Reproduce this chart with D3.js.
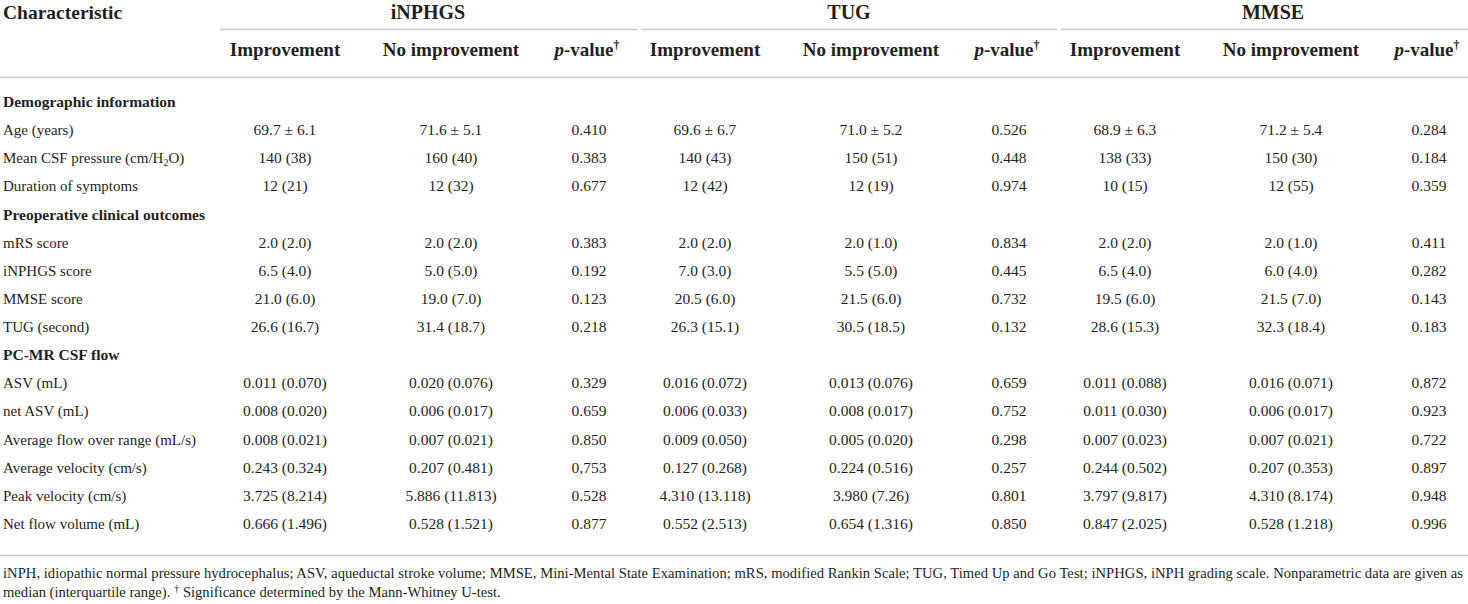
<!DOCTYPE html>
<html><head><meta charset="utf-8">
<script src="https://cdn.jsdelivr.net/npm/d3@7"></script>
<style>
html,body{margin:0;padding:0;background:#fff;}
svg{display:block;}
text{font-family:"Liberation Serif","Times New Roman",serif;fill:#231f20;}
</style></head><body>
<svg id="t" width="1468" height="604"></svg>
<script>
// ---- data ----
const groups = ["iNPHGS", "TUG", "MMSE"];
const subHeaders = ["Improvement", "No improvement", "p-value"];
const sections = [
  {row: 0, label: "Demographic information"},
  {row: 4, label: "Preoperative clinical outcomes"},
  {row: 9, label: "PC-MR CSF flow"}
];
const rowLabels = [
  "Age (years)", "Mean CSF pressure (cm/H2O)", "Duration of symptoms",
  "mRS score", "iNPHGS score", "MMSE score", "TUG (second)",
  "ASV (mL)", "net ASV (mL)", "Average flow over range (mL/s)",
  "Average velocity (cm/s)", "Peak velocity (cm/s)", "Net flow volume (mL)"
];
const rowIndex = [1, 2, 3, 5, 6, 7, 8, 10, 11, 12, 13, 14, 15];
const inphgsImp = ["69.7 ± 6.1","140 (38)","12 (21)","2.0 (2.0)","6.5 (4.0)","21.0 (6.0)","26.6 (16.7)","0.011 (0.070)","0.008 (0.020)","0.008 (0.021)","0.243 (0.324)","3.725 (8.214)","0.666 (1.496)"];
const inphgsNo  = ["71.6 ± 5.1","160 (40)","12 (32)","2.0 (2.0)","5.0 (5.0)","19.0 (7.0)","31.4 (18.7)","0.020 (0.076)","0.006 (0.017)","0.007 (0.021)","0.207 (0.481)","5.886 (11.813)","0.528 (1.521)"];
const inphgsP   = ["0.410","0.383","0.677","0.383","0.192","0.123","0.218","0.329","0.659","0.850","0,753","0.528","0.877"];
const tugImp    = ["69.6 ± 6.7","140 (43)","12 (42)","2.0 (2.0)","7.0 (3.0)","20.5 (6.0)","26.3 (15.1)","0.016 (0.072)","0.006 (0.033)","0.009 (0.050)","0.127 (0.268)","4.310 (13.118)","0.552 (2.513)"];
const tugNo     = ["71.0 ± 5.2","150 (51)","12 (19)","2.0 (1.0)","5.5 (5.0)","21.5 (6.0)","30.5 (18.5)","0.013 (0.076)","0.008 (0.017)","0.005 (0.020)","0.224 (0.516)","3.980 (7.26)","0.654 (1.316)"];
const tugP      = ["0.526","0.448","0.974","0.834","0.445","0.732","0.132","0.659","0.752","0.298","0.257","0.801","0.850"];
const mmseImp   = ["68.9 ± 6.3","138 (33)","10 (15)","2.0 (2.0)","6.5 (4.0)","19.5 (6.0)","28.6 (15.3)","0.011 (0.088)","0.011 (0.030)","0.007 (0.023)","0.244 (0.502)","3.797 (9.817)","0.847 (2.025)"];
const mmseNo    = ["71.2 ± 5.4","150 (30)","12 (55)","2.0 (1.0)","6.0 (4.0)","21.5 (7.0)","32.3 (18.4)","0.016 (0.071)","0.006 (0.017)","0.007 (0.021)","0.207 (0.353)","4.310 (8.174)","0.528 (1.218)"];
const mmseP     = ["0.284","0.184","0.359","0.411","0.282","0.143","0.183","0.872","0.923","0.722","0.897","0.948","0.996"];
const footnote1 = "iNPH, idiopathic normal pressure hydrocephalus; ASV, aqueductal stroke volume; MMSE, Mini-Mental State Examination; mRS, modified Rankin Scale; TUG, Timed Up and Go Test; iNPHGS, iNPH grading scale. Nonparametric data are given as";
const footnote2a = "median (interquartile range). ";
const footnote2b = " Significance determined by the Mann-Whitney U-test.";

const columns = [
  [inphgsImp, inphgsNo, inphgsP],
  [tugImp, tugNo, tugP],
  [mmseImp, mmseNo, mmseP]
];

// ---- layout ----
const W = 1468;
const svg = d3.select("#t");
const gx = d3.scaleLinear().domain([0, 1]).range([285, 705]);        // group -> first column centre
const sub = d3.scaleOrdinal().domain([0,1,2]).range([0, 166, 304]);   // sub-column offset
const gcx = d3.scaleLinear().domain([0, 1]).range([428, 849]);       // group header centre
const ry = d3.scaleLinear().domain([0, 15]).range([107, 529]);       // row baselines
const lineColor = "#c8c8c8";

// header
svg.append("text").attr("x", 3).attr("y", 18.5).attr("font-size", 19.5).attr("font-weight", "bold").text("Characteristic");
svg.selectAll("text.grp").data(groups).join("text").attr("class","grp")
  .attr("x", (d,i)=>gcx(i) + (i===2?3:0)).attr("y", 18.5).attr("text-anchor","middle")
  .attr("font-size", 20).attr("font-weight","bold").text(d=>d);

// group rules
svg.selectAll("line.grp").data(groups).join("line").attr("class","grp")
  .attr("x1",(d,i)=> i===0 ? 220 : gx(i) - 64)
  .attr("x2",(d,i)=> i===2 ? W : gx(i+1) - 68)
  .attr("y1",29.5).attr("y2",29.5).attr("stroke",lineColor).attr("stroke-width",1.5);

// sub headers
groups.forEach((g,gi)=>{
  subHeaders.forEach((s,si)=>{
    const t = svg.append("text").attr("x", gx(gi)+sub(si) + (si===2 ? -2 : 0)).attr("y", 55.5)
      .attr("text-anchor","middle").attr("font-size",19).attr("font-weight","bold");
    if (si===2) {
      t.append("tspan").attr("font-style","italic").text("p");
      t.append("tspan").text("-value");
      t.append("tspan").attr("font-size",12).attr("dy",-7).text("†");
    } else t.text(s);
  });
});

svg.append("line").attr("x1",0).attr("x2",W).attr("y1",77.5).attr("y2",77.5).attr("stroke",lineColor).attr("stroke-width",1.5);

// section headings
svg.selectAll("text.sec").data(sections).join("text").attr("class","sec")
  .attr("x",3).attr("y",d=>ry(d.row)).attr("font-size",15.5).attr("font-weight","bold").text(d=>d.label);

// row labels
rowLabels.forEach((lab,i)=>{
  const t = svg.append("text").attr("x",3).attr("y",ry(rowIndex[i])).attr("font-size",15);
  if (lab.indexOf("H2O")>=0) {
    const parts = lab.split("H2O");
    t.append("tspan").text(parts[0] + "H");
    t.append("tspan").attr("font-size",10).attr("dy",3).text("2");
    t.append("tspan").attr("dy",-3).text("O" + parts[1]);
  } else t.text(lab);
});

// cells
columns.forEach((cols,gi)=>{
  cols.forEach((vals,si)=>{
    svg.append("g").selectAll("text").data(vals).join("text")
      .attr("x", gx(gi)+sub(si)).attr("y",(d,i)=>ry(rowIndex[i]))
      .attr("text-anchor","middle").attr("font-size",15.5).text(d=>d);
  });
});

// bottom rule
svg.append("line").attr("x1",0).attr("x2",W).attr("y1",555.5).attr("y2",555.5).attr("stroke",lineColor).attr("stroke-width",1.5);

// footnotes
const f1 = svg.append("text").attr("x",3).attr("y",577.5).attr("font-size",14.6).text(footnote1);
const f1len = f1.node().getComputedTextLength();
if (f1len > 1460) f1.attr("textLength", 1460).attr("lengthAdjust", "spacingAndGlyphs");
else f1.attr("textLength", 1460).attr("lengthAdjust", "spacing");
const f2 = svg.append("text").attr("x",3).attr("y",596.5).attr("font-size",14.6);
f2.append("tspan").text(footnote2a);
f2.append("tspan").attr("font-size",10.5).attr("dy",-5).text("†");
f2.append("tspan").attr("dy",5).text(footnote2b);
</script>
</body></html>
